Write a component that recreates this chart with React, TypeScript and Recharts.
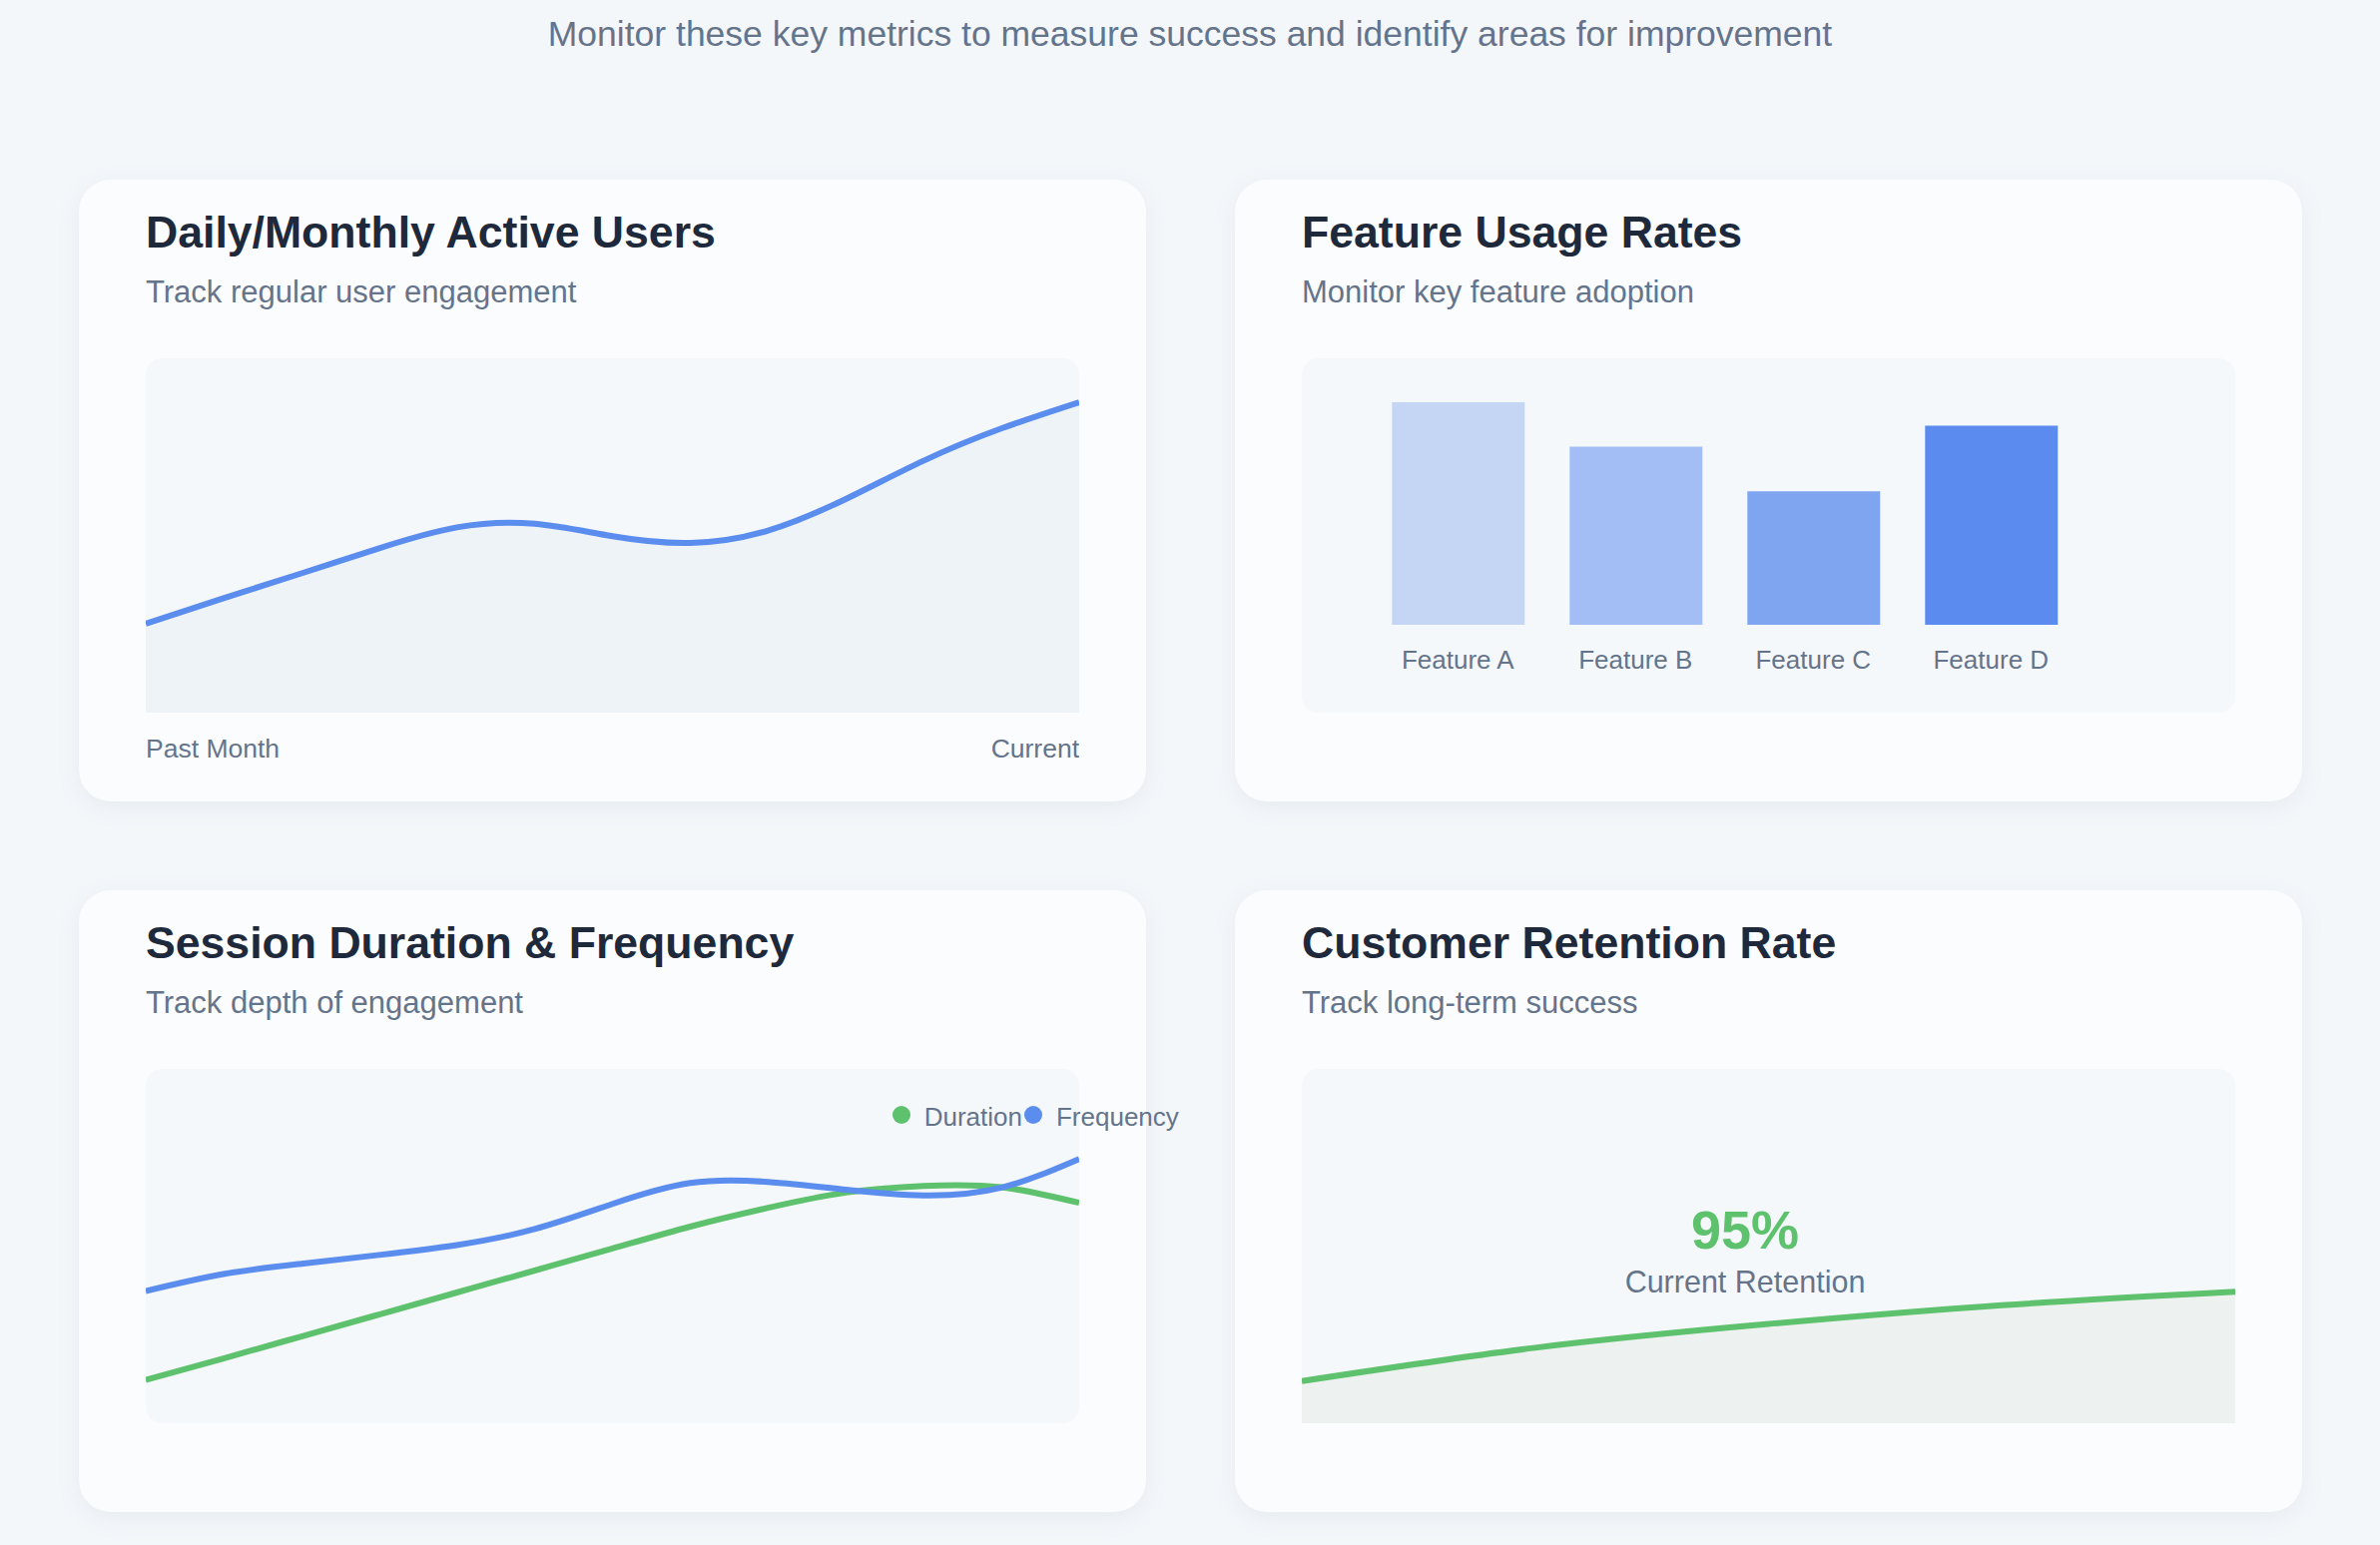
import React from "react";
import {
  AreaChart,
  Area,
  LineChart,
  Line,
  BarChart,
  Bar,
  Cell,
  XAxis,
  YAxis,
  Legend,
} from "recharts";

// ---------- data ----------
const headerText =
  "Monitor these key metrics to measure success and identify areas for improvement";

const cardTitles = [
  "Daily/Monthly Active Users",
  "Feature Usage Rates",
  "Session Duration & Frequency",
  "Customer Retention Rate",
];
const cardSubtitles = [
  "Track regular user engagement",
  "Monitor key feature adoption",
  "Track depth of engagement",
  "Track long-term success",
];

const activeIndex = [0, 1, 2, 3, 4, 5, 6, 7, 8, 9, 10, 11, 12];
const activeUsers = [25.1, 32.3, 39.3, 46.4, 52.3, 53.3, 49.8, 47.9, 51.4, 60.3, 71.1, 80.2, 87.6];
const activeLabels = ["Past Month", "Current"];

const features = ["Feature A", "Feature B", "Feature C", "Feature D"];
const featureRates = [85, 68, 51, 76];
const featureColors = ["#c5d6f4", "#a3bdf5", "#80a5f0", "#5b8bef"];

const sessionIndex = [0, 1, 2, 3, 4, 5, 6, 7, 8, 9, 10, 11, 12];
const durationValues = [12.2, 18.3, 24.5, 30.7, 36.9, 43.1, 49.3, 55.5, 60.8, 65.1, 67.0, 66.6, 62.2];
const frequencyValues = [37.3, 42.1, 45.0, 47.5, 50.3, 54.8, 61.9, 67.8, 68.1, 65.9, 64.3, 66.5, 74.6];
const sessionSeries = [
  { key: "duration", name: "Duration", color: "#5ec16d" },
  { key: "frequency", name: "Frequency", color: "#5b8def" },
];

const retentionIndex = [0, 1, 2, 3, 4];
const retentionValues = [11.9, 21.3, 28.0, 33.3, 37.1];
const retentionRate = "95%";
const retentionLabel = "Current Retention";

// ---------- derived tables ----------
const activeData = activeIndex.map((i, k) => ({ i, v: activeUsers[k] }));
const featureData = features.map((name, k) => ({ name, v: featureRates[k] }));
const sessionData = sessionIndex.map((i, k) => ({
  i,
  duration: durationValues[k],
  frequency: frequencyValues[k],
}));
const retentionData = retentionIndex.map((i, k) => ({ i, v: retentionValues[k] }));

// ---------- styles ----------
const FONT = '"Liberation Sans", Arial, Helvetica, sans-serif';
const BLUE = "#5b8def";
const GREEN = "#5ec16d";
const SLATE = "#64748b";
const DARK = "#1e293b";
const BOX_W = 935;
const BOX_H = 355;

const cardPos = [
  { left: 79, top: 180 },
  { left: 1237, top: 180 },
  { left: 79, top: 892 },
  { left: 1237, top: 892 },
];

function Card({ idx, children }: { idx: number; children?: React.ReactNode }) {
  const p = cardPos[idx];
  return (
    <div
      style={{
        position: "absolute",
        left: p.left,
        top: p.top,
        width: 1069,
        height: 623,
        borderRadius: 32,
        background: "#fbfcfd",
        boxShadow: "0 6px 24px rgba(100,116,139,0.09)",
      }}
    >
      <div
        style={{
          position: "absolute",
          left: 67,
          top: 30.5,
          fontSize: 44.6,
          lineHeight: 1,
          fontWeight: 700,
          color: DARK,
          whiteSpace: "nowrap",
        }}
      >
        {cardTitles[idx]}
      </div>
      <div
        style={{
          position: "absolute",
          left: 67,
          top: 96.8,
          fontSize: 31,
          lineHeight: 1,
          color: SLATE,
          whiteSpace: "nowrap",
        }}
      >
        {cardSubtitles[idx]}
      </div>
      <div
        style={{
          position: "absolute",
          left: 67,
          top: 179,
          width: BOX_W,
          height: BOX_H,
          borderRadius: 16,
          background: "#f5f8fb",
        }}
      />
      <div style={{ position: "absolute", left: 67, top: 179 }}>{children}</div>
    </div>
  );
}

const ActiveTick = (props: any) => {
  const { x, payload } = props;
  const first = payload.value === activeIndex[0];
  return (
    <text
      x={x}
      y={BOX_H + 45}
      textAnchor={first ? "start" : "end"}
      fill={SLATE}
      fontSize={26.5}
      fontFamily={FONT}
    >
      {first ? activeLabels[0] : activeLabels[1]}
    </text>
  );
};

const FeatureTick = (props: any) => {
  const { x, payload } = props;
  return (
    <text x={x} y={267 + 44} textAnchor="middle" fill={SLATE} fontSize={26} fontFamily={FONT}>
      {payload.value}
    </text>
  );
};

const SessionLegend = () => (
  <div
    style={{
      display: "flex",
      alignItems: "center",
      whiteSpace: "nowrap",
      fontSize: 26,
      lineHeight: "30px",
      color: SLATE,
      fontFamily: FONT,
    }}
  >
    {sessionSeries.map((s, i) => (
      <div key={s.key} style={{ display: "flex", alignItems: "center", marginLeft: i ? 2 : 0 }}>
        <span
          style={{
            display: "inline-block",
            width: 18,
            height: 18,
            borderRadius: 9,
            background: s.color,
            marginRight: 14,
            position: "relative",
            top: -2,
          }}
        />
        <span>{s.name}</span>
      </div>
    ))}
  </div>
);

export default function App() {
  return (
    <div
      style={{
        position: "absolute",
        left: 0,
        top: 0,
        width: 2384,
        height: 1548,
        overflow: "hidden",
        background: "#f4f7fa",
        fontFamily: FONT,
      }}
    >
      <div
        style={{
          position: "absolute",
          left: 0,
          top: 16.95,
          width: 2384,
          textAlign: "center",
          fontSize: 35.5,
          lineHeight: 1,
          color: SLATE,
          whiteSpace: "nowrap",
        }}
      >
        {headerText}
      </div>

      {/* Card 1: active users */}
      <Card idx={0}>
        <AreaChart
          width={BOX_W}
          height={BOX_H + 61}
          data={activeData}
          margin={{ top: 0, right: 0, bottom: 0, left: 0 }}
        >
          <XAxis
            dataKey="i"
            type="number"
            domain={[0, 12]}
            ticks={[0, 12]}
            interval={0}
            height={61}
            axisLine={false}
            tickLine={false}
            tick={ActiveTick}
          />
          <YAxis hide domain={[0, 100]} />
          <Area
            type="natural"
            dataKey="v"
            stroke={BLUE}
            strokeWidth={6}
            fill="#eef3f8"
            fillOpacity={1}
            isAnimationActive={false}
            dot={false}
            activeDot={false}
          />
        </AreaChart>
      </Card>

      {/* Card 2: feature usage */}
      <Card idx={1}>
        <BarChart
          width={BOX_W}
          height={BOX_H}
          data={featureData}
          margin={{ top: 4.6, right: 155.7, bottom: 0, left: 67.3 }}
        >
          <XAxis
            dataKey="name"
            height={88}
            axisLine={false}
            tickLine={false}
            interval={0}
            tick={FeatureTick}
          />
          <YAxis hide domain={[0, 100]} />
          <Bar dataKey="v" barSize={133} isAnimationActive={false}>
            {featureData.map((d, k) => (
              <Cell key={d.name} fill={featureColors[k]} />
            ))}
          </Bar>
        </BarChart>
      </Card>

      {/* Card 3: session duration & frequency */}
      <Card idx={2}>
        <LineChart
          width={BOX_W}
          height={BOX_H}
          data={sessionData}
          margin={{ top: 0, right: 0, bottom: 0, left: 0 }}
        >
          <XAxis dataKey="i" type="number" domain={[0, 12]} hide />
          <YAxis hide domain={[0, 100]} />
          <Legend
            layout="horizontal"
            verticalAlign="middle"
            align="center"
            content={SessionLegend}
            wrapperStyle={{ left: 747.7, top: 32.7, width: "max-content" }}
          />
          {sessionSeries.map((s) => (
            <Line
              key={s.key}
              type="natural"
              dataKey={s.key}
              name={s.name}
              stroke={s.color}
              strokeWidth={6}
              dot={false}
              activeDot={false}
              isAnimationActive={false}
            />
          ))}
        </LineChart>
      </Card>

      {/* Card 4: retention */}
      <Card idx={3}>
        <AreaChart
          width={BOX_W}
          height={BOX_H}
          data={retentionData}
          margin={{ top: 0, right: 0, bottom: 0, left: 0 }}
        >
          <XAxis dataKey="i" type="number" domain={[0, 4]} hide />
          <YAxis hide domain={[0, 100]} />
          <Area
            type="natural"
            dataKey="v"
            stroke={GREEN}
            strokeWidth={6}
            fill="#edf2f0"
            fillOpacity={1}
            dot={false}
            activeDot={false}
            isAnimationActive={false}
          />
        </AreaChart>
        <div
          style={{
            position: "absolute",
            left: 444 - 300,
            width: 600,
            top: 134.3,
            textAlign: "center",
            fontSize: 54,
            lineHeight: 1,
            fontWeight: 700,
            color: GREEN,
          }}
        >
          {retentionRate}
        </div>
        <div
          style={{
            position: "absolute",
            left: 444 - 300,
            width: 600,
            top: 197.5,
            textAlign: "center",
            fontSize: 30.5,
            lineHeight: 1,
            color: SLATE,
          }}
        >
          {retentionLabel}
        </div>
      </Card>
    </div>
  );
}
